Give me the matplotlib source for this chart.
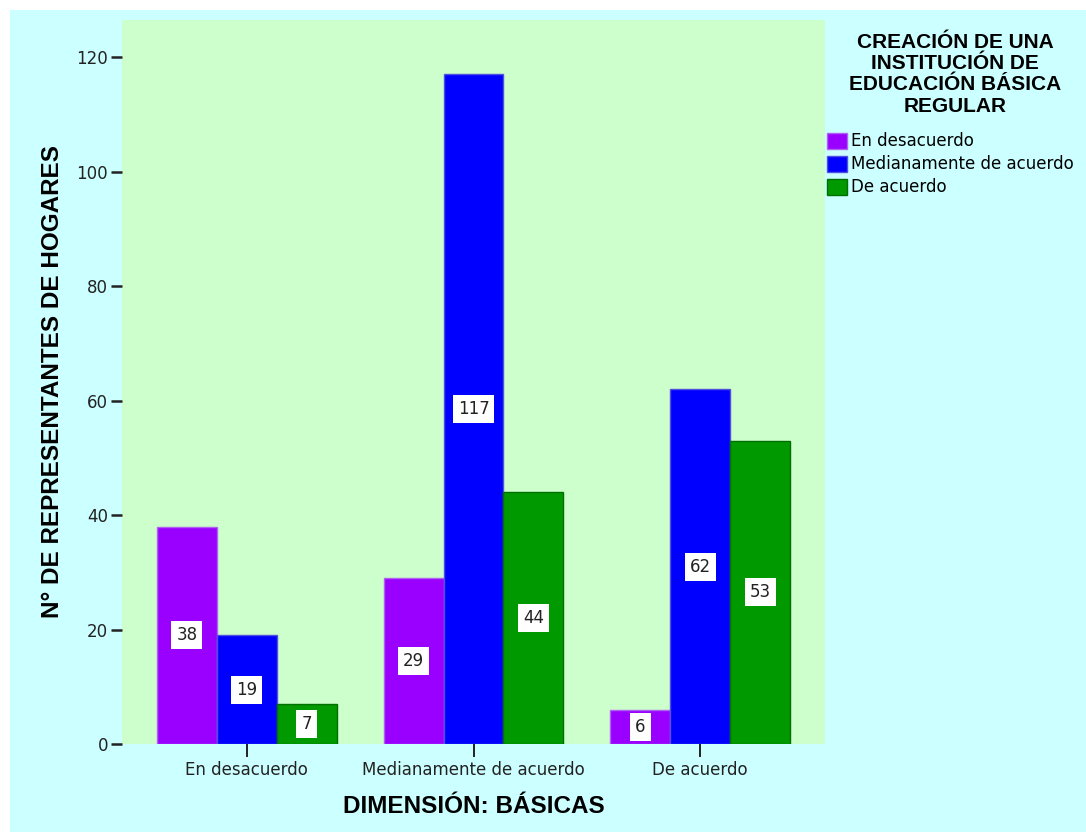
import matplotlib
matplotlib.use("Agg")
import matplotlib.pyplot as plt
from matplotlib.patches import Rectangle, Patch
import numpy as np

categories = ["En desacuerdo", "Medianamente de acuerdo", "De acuerdo"]
series_names = ["En desacuerdo", "Medianamente de acuerdo", "De acuerdo"]
en_desacuerdo = [38, 29, 6]
medianamente = [19, 117, 62]
de_acuerdo = [7, 44, 53]
yticks = [0, 20, 40, 60, 80, 100, 120]
legend_title = "CREACIÓN DE UNA\nINSTITUCIÓN DE\nEDUCACIÓN BÁSICA\nREGULAR"

series = [en_desacuerdo, medianamente, de_acuerdo]
colors = ["#9900ff", "#0000ff", "#009900"]
edges = ["#b060f0", "#5050e0", "#007000"]

plt.rcParams["font.family"] = ["DejaVu Sans"]
BOLD = ["Liberation Sans", "DejaVu Sans"]

W, H = 1086, 832
fig = plt.figure(figsize=(W / 100, H / 100), dpi=100)
fig.patch.set_facecolor("white")
fig.add_artist(Rectangle((10 / W, 0), 1 - 10 / W, 1 - 10 / H,
                         transform=fig.transFigure, facecolor="#ccffff",
                         edgecolor="none", zorder=0))

ax = fig.add_axes([122 / W, 88 / H, 703 / W, 724 / H])
ax.set_facecolor("#ccffcc")
for s in ax.spines.values():
    s.set_visible(False)

x = np.arange(len(categories))
width = 0.264
for i, (vals, c, ec) in enumerate(zip(series, colors, edges)):
    pos = x + (i - 1) * width
    ax.bar(pos, vals, width=width, color=c, edgecolor=ec, linewidth=1.0, zorder=2)
    for p, v in zip(pos, vals):
        ax.text(p, v / 2, str(v), ha="center", va="center", fontsize=12,
                color="#222222", zorder=3,
                bbox=dict(boxstyle="square,pad=0.3", facecolor="white",
                          edgecolor="none"))

ax.set_xlim(-0.55, 2.55)
ax.set_ylim(0, 126.5)
ax.set_yticks(yticks)
ax.set_xticks(x)
ax.set_xticklabels(categories)
ax.tick_params(axis="y", length=8, width=1.8, pad=2, labelsize=12,
               colors="#222222")
ax.tick_params(axis="x", length=9, width=1.4, pad=3, labelsize=12,
               colors="#222222", direction="out")

ax.set_ylabel("N° DE REPRESENTANTES DE HOGARES", fontsize=17.5,
              fontweight="bold", family=BOLD, labelpad=9)
ax.set_xlabel("DIMENSIÓN: BÁSICAS", fontsize=17.5, fontweight="bold",
              family=BOLD, labelpad=12)

# Legend title drawn separately for control over its line spacing
fig.text(955 / W, 1 - 33 / H, legend_title, ha="center", va="top",
         multialignment="center", fontsize=15, fontweight="bold",
         family=BOLD, linespacing=1.15, color="black")

handles = [Patch(facecolor=c, edgecolor=ec) for c, ec in zip(colors, edges)]
leg = fig.legend(handles, series_names,
                 loc="upper left", bbox_to_anchor=(824 / W, 1 - 129 / H),
                 frameon=False, fontsize=12, handlelength=1.2,
                 handleheight=1.1, handletextpad=0.2, labelspacing=0.3,
                 borderaxespad=0, borderpad=0.2)

fig.savefig("out.png", dpi=100)
